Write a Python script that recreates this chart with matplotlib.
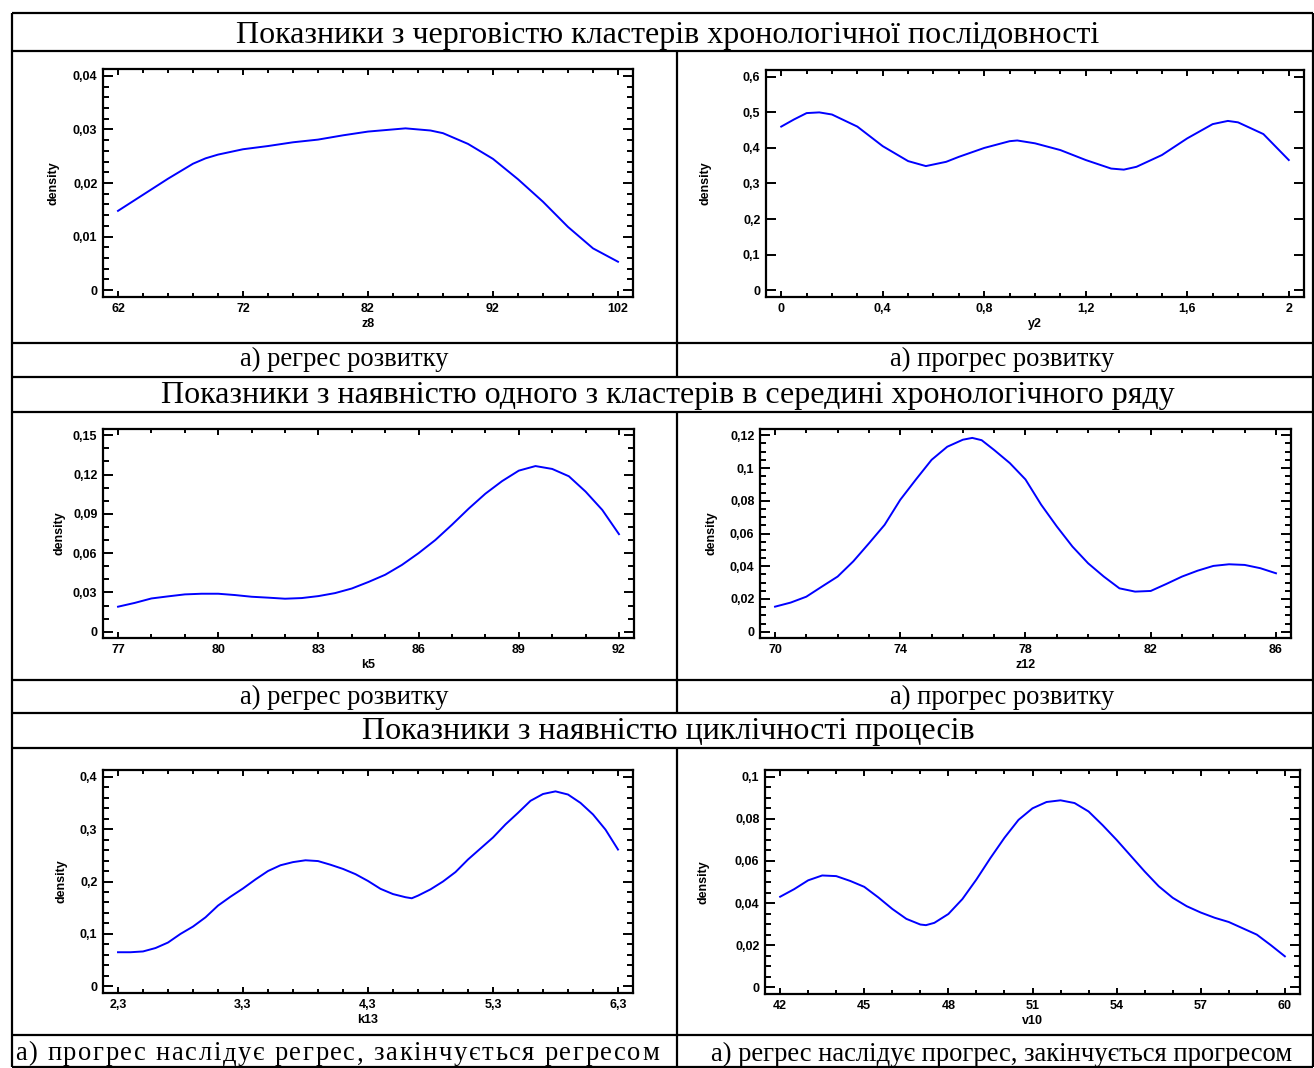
import numpy as np
import matplotlib
matplotlib.use("Agg")
import matplotlib.pyplot as plt
from matplotlib.ticker import FixedLocator, FuncFormatter

W, H = 1314, 1068

# --- data ---
z8_x = [62, 64, 66, 68, 69, 70, 72, 74, 76, 78, 80, 82, 84, 85, 86, 87, 88, 90, 92, 94, 96, 98, 100, 102]
z8_y = [0.0148, 0.0178, 0.0208, 0.0236, 0.0246, 0.0253, 0.0263, 0.0269, 0.0276, 0.0281, 0.0289, 0.0296,
        0.0300, 0.0302, 0.0300, 0.0298, 0.0293, 0.0273, 0.0245, 0.0207, 0.0165, 0.0118, 0.0078, 0.0053]

y2_x = [0, 0.05, 0.1, 0.15, 0.2, 0.3, 0.4, 0.5, 0.57, 0.65, 0.7, 0.8, 0.9, 0.93, 1.0, 1.1, 1.2, 1.3,
        1.35, 1.4, 1.5, 1.6, 1.7, 1.76, 1.8, 1.9, 2.0]
y2_y = [0.46, 0.48, 0.498, 0.5, 0.494, 0.46, 0.405, 0.363, 0.349, 0.361, 0.375, 0.40, 0.419, 0.421,
        0.413, 0.394, 0.366, 0.342, 0.339, 0.347, 0.38, 0.427, 0.467, 0.476, 0.472, 0.439, 0.366]

k5_x = [77, 77.5, 78, 78.5, 79, 79.5, 80, 80.5, 81, 81.5, 82, 82.5, 83, 83.5, 84, 84.5, 85, 85.5, 86,
        86.5, 87, 87.5, 88, 88.5, 89, 89.5, 90, 90.5, 91, 91.5, 92]
k5_y = [0.0191, 0.022, 0.0254, 0.027, 0.0285, 0.029, 0.029, 0.028, 0.0267, 0.026, 0.0252, 0.0257,
        0.0272, 0.0295, 0.033, 0.038, 0.0435, 0.051, 0.060, 0.070, 0.0817, 0.094, 0.1054, 0.115, 0.123,
        0.1265, 0.1243, 0.1187, 0.107, 0.093, 0.0745]

z12_x = [70, 70.5, 71, 71.5, 72, 72.5, 73, 73.5, 74, 74.5, 75, 75.5, 76, 76.3, 76.6, 77, 77.5, 78, 78.5,
         79, 79.5, 80, 80.5, 81, 81.5, 82, 82.5, 83, 83.5, 84, 84.5, 85, 85.5, 86]
z12_y = [0.0153, 0.0178, 0.0214, 0.0276, 0.0337, 0.043, 0.054, 0.0653, 0.0806, 0.093, 0.105, 0.113,
         0.1173, 0.1184, 0.117, 0.111, 0.103, 0.093, 0.0776, 0.0643, 0.052, 0.0418, 0.0337, 0.0265,
         0.0245, 0.0249, 0.0292, 0.0337, 0.0373, 0.0402, 0.0412, 0.0408, 0.0388, 0.0357]

k13_x = [2.3, 2.4, 2.5, 2.6, 2.7, 2.8, 2.9, 3.0, 3.1, 3.2, 3.3, 3.4, 3.5, 3.6, 3.7, 3.8, 3.9, 4.0, 4.1,
         4.2, 4.3, 4.4, 4.5, 4.6, 4.65, 4.7, 4.8, 4.9, 5.0, 5.1, 5.2, 5.3, 5.4, 5.5, 5.6, 5.7, 5.8, 5.9,
         6.0, 6.1, 6.2, 6.3]
k13_y = [0.065, 0.065, 0.0665, 0.073, 0.0835, 0.10, 0.114, 0.1316, 0.154, 0.171, 0.1867, 0.204, 0.22,
         0.231, 0.237, 0.2405, 0.239, 0.232, 0.224, 0.214, 0.201, 0.186, 0.176, 0.17, 0.168, 0.173,
         0.185, 0.20, 0.218, 0.242, 0.263, 0.284, 0.309, 0.331, 0.354, 0.367, 0.372, 0.366, 0.35,
         0.328, 0.299, 0.261]

v10_x = [42, 42.5, 43, 43.5, 44, 44.5, 45, 45.5, 46, 46.5, 47, 47.2, 47.5, 48, 48.5, 49, 49.5, 50,
         50.5, 51, 51.5, 52, 52.5, 53, 53.5, 54, 54.5, 55, 55.5, 56, 56.5, 57, 57.5, 58, 58.5, 59,
         59.5, 60]
v10_y = [0.043, 0.0466, 0.0508, 0.0531, 0.0528, 0.0505, 0.0477, 0.0427, 0.0372, 0.0325, 0.0298,
         0.0295, 0.0306, 0.0348, 0.0419, 0.0512, 0.0614, 0.071, 0.0795, 0.085, 0.088, 0.0888, 0.0875,
         0.0835, 0.077, 0.070, 0.0625, 0.055, 0.048, 0.0425, 0.0385, 0.0355, 0.033, 0.031, 0.028,
         0.025, 0.020, 0.0147]

section_titles = [
    "Показники з черговістю кластерів хронологічної послідовності",
    "Показники з наявністю одного з кластерів в середині хронологічного ряду",
    "Показники з наявністю циклічності процесів",
]
captions = [
    ("а) регрес розвитку", "а) прогрес розвитку"),
    ("а) регрес розвитку", "а) прогрес розвитку"),
    ("а) прогрес наслідує регрес, закінчується регресом",
     "а) регрес наслідує прогрес, закінчується прогресом"),
]

# (x, y, xlabel, x ticks (lo, hi, major, minor), y ticks (lo, hi, major, minor or None),
#  axes box in px (left, top, right, bottom), ylabel offset px)
panels = [
    (z8_x, z8_y, "z8", (62, 102, 10, 2), (0, 0.04, 0.01, 0.002), (103, 69, 633, 297), 43),
    (y2_x, y2_y, "y2", (0, 2, 0.4, 0.1), (0, 0.6, 0.1, None), (766, 70, 1304, 297), 55),
    (k5_x, k5_y, "k5", (77, 92, 3, 1), (0, 0.15, 0.03, 0.01), (103, 429, 634, 638), 38),
    (z12_x, z12_y, "z12", (70, 86, 4, 1), (0, 0.12, 0.02, 0.005), (760, 429, 1291, 638), 43),
    (k13_x, k13_y, "k13", (2.3, 6.3, 1, 0.2), (0, 0.4, 0.1, 0.02), (103, 770, 633, 993), 36),
    (v10_x, v10_y, "v10", (42, 60, 3, 1), (0, 0.1, 0.02, 0.005), (765, 770, 1300, 994), 55),
]

SANS = "Liberation Sans"
SERIF = "Liberation Serif"
TITLE_FS = 23
CAP_FS = 19.2


def comma(v, pos):
    return f"{round(v, 6):g}".replace(".", ",")


def ticks(lo, hi, step):
    return np.round(np.arange(lo, hi + step / 2, step), 6)


def spaced(ax, text, x0, x1, y, renderer, **kw):
    # expanded character spacing so the line fills x0..x1
    arts = [ax.text(0, y, ch, ha="left", va="center", **kw) for ch in text]
    space_w = ax.text(0, y, "a a", **kw)
    w3 = space_w.get_window_extent(renderer).width
    space_w.set_text("aa")
    w_sp = w3 - space_w.get_window_extent(renderer).width
    space_w.remove()
    widths = [w_sp if ch == " " else a.get_window_extent(renderer).width
              for ch, a in zip(text, arts)]
    extra = (x1 - x0 - sum(widths)) / (len(text) - 1)
    pos = x0
    for a, w in zip(arts, widths):
        a.set_x(pos)
        pos += w + extra


fig = plt.figure(figsize=(W / 100, H / 100), dpi=100)
renderer = fig.canvas.get_renderer()

# table frame drawn on a pixel-space background axes
bg = fig.add_axes([0, 0, 1, 1])
bg.set_xlim(0, W)
bg.set_ylim(H, 0)
bg.axis("off")
row_lines = [13, 51, 343, 377, 412, 680, 713, 748, 1035, 1067]
bg.hlines(row_lines, 12, 1313, color="black", lw=1.6)
bg.vlines([12, 1313], 13, 1067, color="black", lw=1.6)
for top, bottom in [(51, 377), (412, 713), (748, 1067)]:
    bg.vlines(677, top, bottom, color="black", lw=1.6)

title_y = [35, 396, 732]
caption_y = [359, 697, 1054]
for t, ty in zip(section_titles, title_y):
    bg.text(668, ty, t, ha="center", va="center", family=SERIF, fontsize=TITLE_FS)
for i, ((left, right), cy) in enumerate(zip(captions, caption_y)):
    if i == 2:
        spaced(bg, left, 15, 659, cy, renderer, family=SERIF, fontsize=CAP_FS)
    else:
        bg.text(344, cy, left, ha="center", va="center", family=SERIF, fontsize=CAP_FS)
    bg.text(1002, cy, right, ha="center", va="center", family=SERIF, fontsize=CAP_FS)

for x, y, xlab, xt, yt, box, yoff in panels:
    left, top, right, bottom = box
    wpx, hpx = right - left, bottom - top
    ax = fig.add_axes([left / W, 1 - bottom / H, wpx / W, hpx / H])
    ax.plot(x, y, color="#0000ff", lw=1.4)

    xlo, xhi, xmaj, xmin = xt
    ylo, yhi, ymaj, ymin = yt
    xr, yr = xhi - xlo, yhi - ylo
    ax.set_xlim(xlo - 0.03 * xr, xhi + 0.03 * xr)
    ax.set_ylim(ylo - 0.032 * yr, yhi + 0.032 * yr)
    ax.xaxis.set_major_locator(FixedLocator(ticks(xlo, xhi, xmaj)))
    ax.xaxis.set_minor_locator(FixedLocator(ticks(xlo, xhi, xmin)))
    ax.yaxis.set_major_locator(FixedLocator(ticks(ylo, yhi, ymaj)))
    if ymin:
        ax.yaxis.set_minor_locator(FixedLocator(ticks(ylo, yhi, ymin)))
    ax.xaxis.set_major_formatter(FuncFormatter(comma))
    ax.yaxis.set_major_formatter(FuncFormatter(comma))

    ax.tick_params(which="both", direction="in", top=True, right=True, width=1.4,
                   labelsize=9, colors="black")
    ax.tick_params(axis="y", which="major", length=7, pad=4)
    ax.tick_params(axis="y", which="minor", length=4)
    ax.tick_params(axis="x", which="major", length=4, pad=4.5)
    ax.tick_params(axis="x", which="minor", length=3)
    for lab in ax.get_xticklabels() + ax.get_yticklabels():
        lab.set_family(SANS)
        lab.set_fontweight("bold")
    for sp in ax.spines.values():
        sp.set_linewidth(1.6)

    ax.set_xlabel(xlab, family=SANS, fontweight="bold", fontsize=9)
    ax.xaxis.set_label_coords(0.5, -21 / hpx)
    ax.set_ylabel("density", family=SANS, fontweight="bold", fontsize=9)
    ax.yaxis.set_label_coords(-yoff / wpx, 0.5)

fig.savefig("out.png", dpi=100)
